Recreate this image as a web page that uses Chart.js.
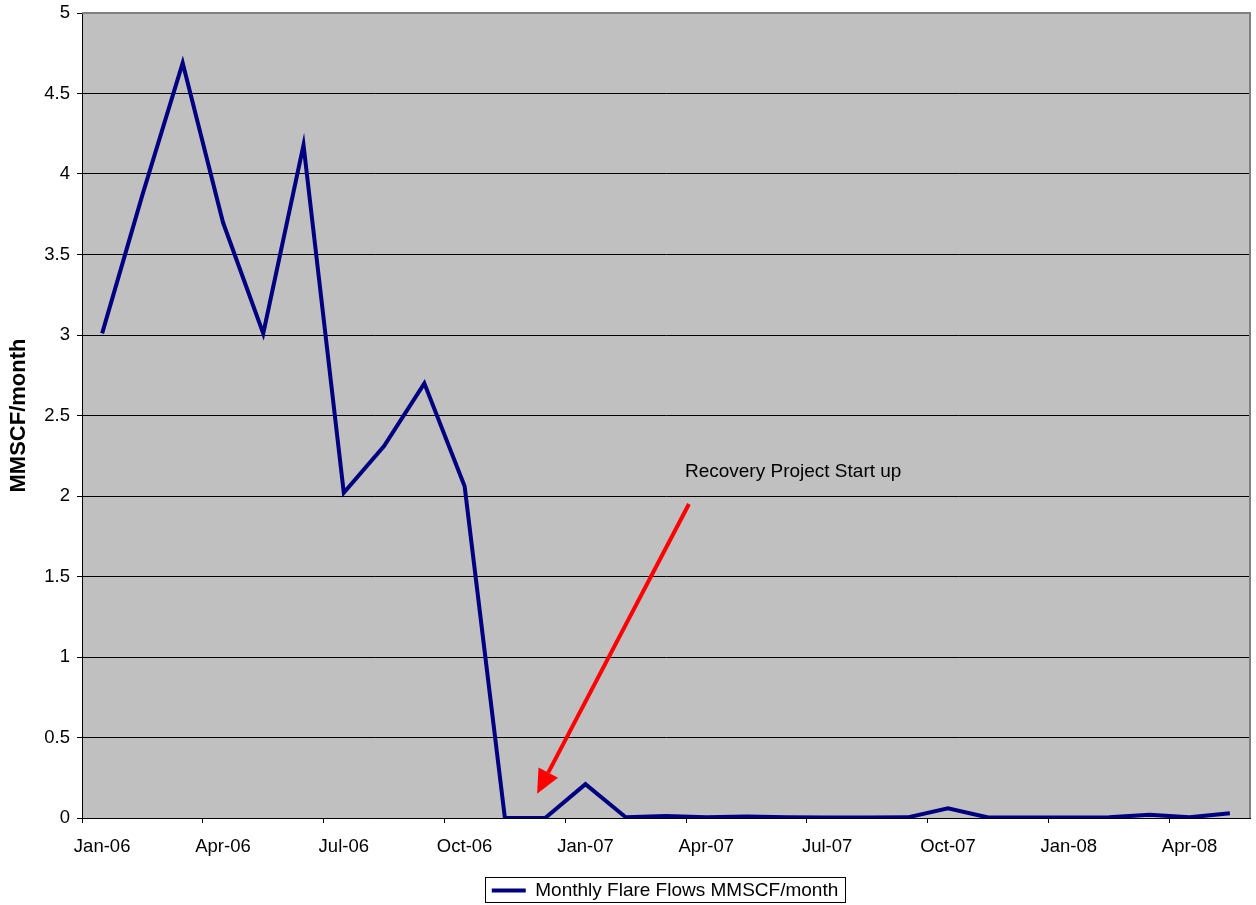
<!DOCTYPE html>
<html>
<head>
<meta charset="utf-8">
<script src="https://cdn.jsdelivr.net/npm/chart.js@4.4.1/dist/chart.umd.min.js"></script>
<style>
  html, body { margin: 0; padding: 0; background: #fff; }
  #wrap { width: 1256px; height: 905px; position: relative; }
</style>
</head>
<body>
<div id="wrap"><canvas id="c"></canvas></div>
<script>
// ---- data ----
const months = ["Jan-06","Feb-06","Mar-06","Apr-06","May-06","Jun-06","Jul-06","Aug-06","Sep-06","Oct-06","Nov-06","Dec-06",
                "Jan-07","Feb-07","Mar-07","Apr-07","May-07","Jun-07","Jul-07","Aug-07","Sep-07","Oct-07","Nov-07","Dec-07",
                "Jan-08","Feb-08","Mar-08","Apr-08","May-08"];
const flareFlows = [3.01, 3.87, 4.69, 3.70, 3.01, 4.18, 2.02, 2.31, 2.70, 2.06, 0.0, 0.0,
                    0.21, 0.005, 0.012, 0.005, 0.01, 0.005, 0.003, 0.003, 0.004, 0.06, 0.003, 0.003,
                    0.003, 0.004, 0.02, 0.004, 0.03];
const yTickValues = [0, 0.5, 1, 1.5, 2, 2.5, 3, 3.5, 4, 4.5, 5];
const seriesLabel = "Monthly Flare Flows MMSCF/month";
const yTitle = "MMSCF/month";
const annotationText = "Recovery Project Start up";
// arrow in data coordinates: [category index, value]
const arrowFrom = [14.57, 1.95];
const arrowTo = [10.8, 0.15];
const annotationAt = [14.47, 2.15];

const FONT = "'Liberation Sans', Arial, sans-serif";
const FS = 18.5;
const LEGEND_SHIFT_X = 40;
const LEGEND_SHIFT_Y = 5;

const plotBg = {
  id: 'plotBg',
  afterLayout(chart) {
    const lg = chart.legend;
    if (lg) {
      lg.left += LEGEND_SHIFT_X;
      lg.right += LEGEND_SHIFT_X;
      lg.top += LEGEND_SHIFT_Y;
      lg.bottom += LEGEND_SHIFT_Y;
      (lg.legendHitBoxes || []).forEach(h => { h.left += LEGEND_SHIFT_X; });
    }
  },
  beforeDraw(chart) {
    const {ctx, chartArea: a} = chart;
    ctx.save();
    ctx.fillStyle = '#C0C0C0';
    ctx.fillRect(a.left, a.top, a.right - a.left, a.bottom - a.top);
    ctx.restore();
  },
  afterDraw(chart) {
    const {ctx, chartArea: a, scales} = chart;
    ctx.save();
    // plot border (top/right)
    ctx.strokeStyle = '#808080';
    ctx.lineWidth = 2;
    ctx.beginPath();
    ctx.moveTo(a.left, a.top);
    ctx.lineTo(a.right, a.top);
    ctx.lineTo(a.right, a.bottom);
    ctx.stroke();
    // arrow
    const x0 = scales.x.getPixelForValue(arrowFrom[0]), y0 = scales.y.getPixelForValue(arrowFrom[1]);
    const x1 = scales.x.getPixelForValue(arrowTo[0]), y1 = scales.y.getPixelForValue(arrowTo[1]);
    const ang = Math.atan2(y1 - y0, x1 - x0);
    const hl = 24, hw = 11;
    const bx = x1 - hl * Math.cos(ang), by = y1 - hl * Math.sin(ang);
    ctx.strokeStyle = '#FF0000';
    ctx.fillStyle = '#FF0000';
    ctx.lineWidth = 4;
    ctx.beginPath();
    ctx.moveTo(x0, y0);
    ctx.lineTo(bx, by);
    ctx.stroke();
    ctx.beginPath();
    ctx.moveTo(x1, y1);
    ctx.lineTo(bx + hw * Math.sin(ang), by - hw * Math.cos(ang));
    ctx.lineTo(bx - hw * Math.sin(ang), by + hw * Math.cos(ang));
    ctx.closePath();
    ctx.fill();
    // annotation text
    ctx.fillStyle = '#000';
    ctx.font = "19px " + FONT;
    ctx.textAlign = 'left';
    ctx.textBaseline = 'middle';
    ctx.fillText(annotationText, scales.x.getPixelForValue(annotationAt[0]), scales.y.getPixelForValue(annotationAt[1]));
    // legend box border
    const lg = chart.legend;
    if (lg && lg.legendHitBoxes && lg.legendHitBoxes.length) {
      const h = lg.legendHitBoxes[0];
      ctx.strokeStyle = '#000';
      ctx.lineWidth = 1;
      ctx.strokeRect(Math.round(h.left) - 6.5, Math.round(h.top) - 3.5, Math.round(h.width) + 13, Math.round(h.height) + 6);
    }
    ctx.restore();
  }
};

new Chart(document.getElementById('c'), {
  type: 'line',
  data: {
    labels: months,
    datasets: [{
      label: seriesLabel,
      data: flareFlows,
      borderColor: '#000080',
      backgroundColor: '#000080',
      borderWidth: 4,
      pointRadius: 0,
      tension: 0,
      fill: false,
      pointStyle: 'line'
    }]
  },
  options: {
    responsive: true,
    maintainAspectRatio: false,
    animation: false,
    layout: { padding: { top: 13, right: 6, left: 0, bottom: 0 } },
    plugins: {
      tooltip: { enabled: false },
      legend: {
        position: 'bottom',
        labels: {
          usePointStyle: true,
          pointStyle: 'line',
          pointStyleWidth: 34,
          color: '#000',
          font: { family: FONT, size: 19 },
          padding: 2
        }
      }
    },
    scales: {
      x: {
        type: 'category',
        offset: true,
        grid: {
          offset: true,
          drawOnChartArea: false,
          drawTicks: true,
          tickLength: 5,
          color: (ctx) => (ctx.index % 3 === 0 ? '#000' : 'rgba(0,0,0,0)')
        },
        border: { display: true, color: '#000', width: 1 },
        ticks: {
          autoSkip: false,
          maxRotation: 0,
          color: '#000',
          font: { family: FONT, size: FS },
          padding: 13,
          callback: function(v, i) { return i % 3 === 0 ? months[i] : ''; }
        },
        afterFit(scale) { scale.height = 56; }
      },
      y: {
        min: 0,
        max: 5,
        afterBuildTicks(scale) { scale.ticks = yTickValues.map(v => ({ value: v })); },
        ticks: {
          color: '#000',
          font: { family: FONT, size: FS },
          padding: 7,
          callback: (v) => String(v)
        },
        grid: { color: '#000', lineWidth: 1, tickLength: 5 },
        border: { display: true, color: '#000', width: 1 },
        title: {
          display: true,
          text: yTitle,
          color: '#000',
          font: { family: FONT, size: 22, weight: 'bold' },
          padding: { top: 6, bottom: 0 }
        },
        afterFit(scale) { scale.width = 82; scale.paddingTop = 0; scale.paddingBottom = 0; }
      }
    }
  },
  plugins: [plotBg]
});
</script>
</body>
</html>
